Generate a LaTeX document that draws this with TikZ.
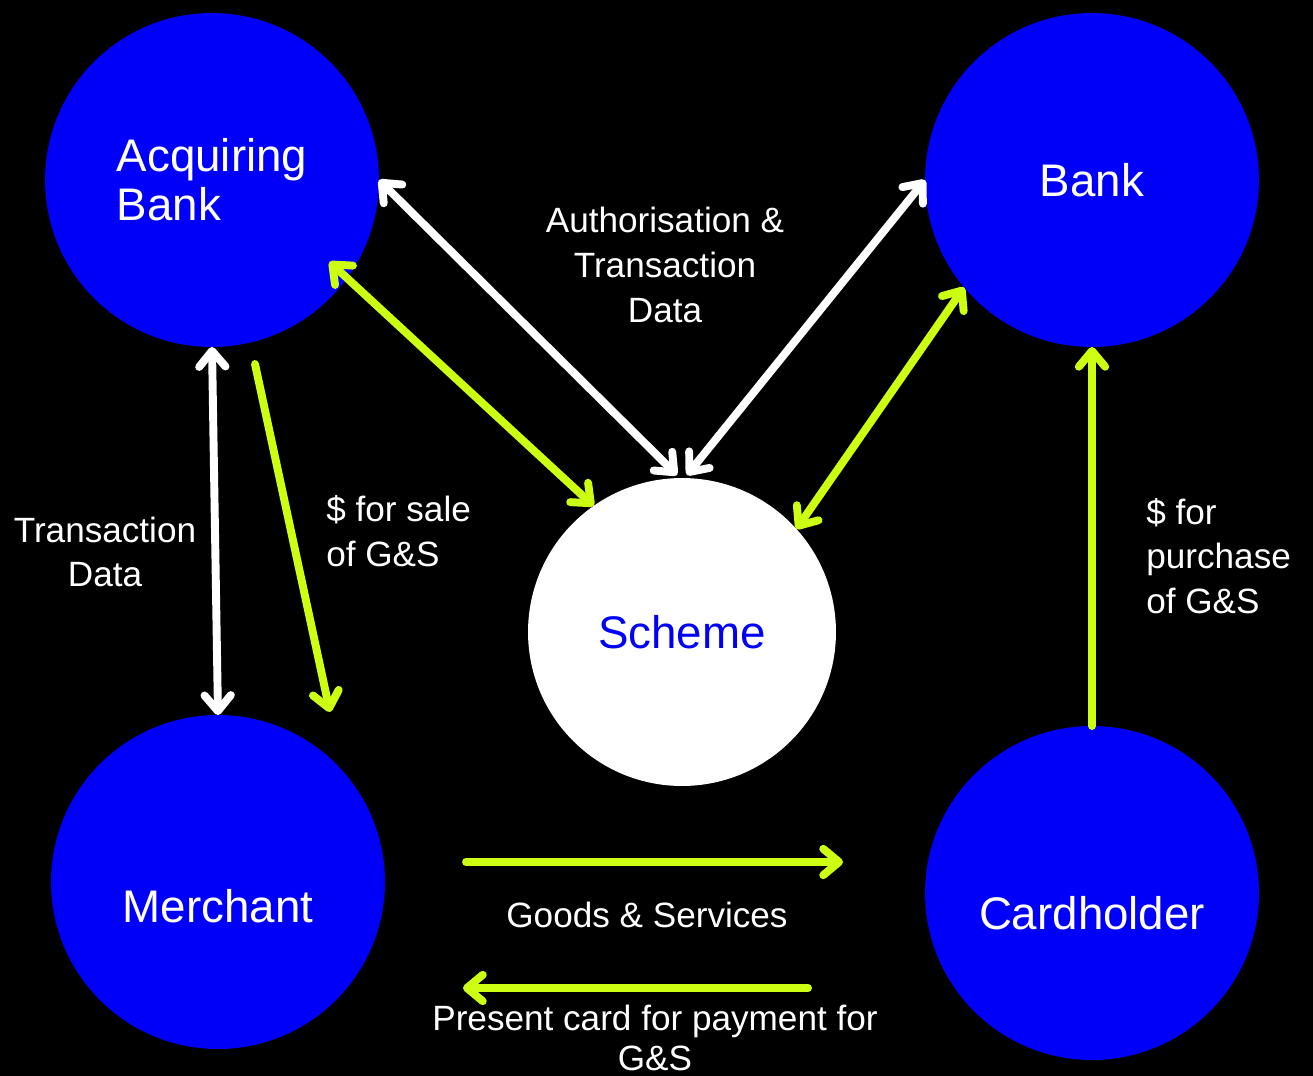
\documentclass[tikz,border=0pt]{standalone}
\usepackage{fontspec}
\setmainfont{Liberation Sans}
\usetikzlibrary{arrows.meta}
\usetikzlibrary{calc}
\usetikzlibrary{positioning}

\definecolor{cardblue}{RGB}{0,0,250}
\definecolor{lime}{RGB}{204,255,17}

\begin{document}
\begin{tikzpicture}[x=0.02cm, y=-0.02cm,
        >={Straight Barb[length=9pt,width=15pt,round]},
        party/.style={circle, fill=cardblue, text=white,
          inner sep=0pt, outer sep=0pt, minimum size=6.68cm,
          font=\fontsize{26}{28}\selectfont,
      },
        note/.style={text=white, inner sep=0pt,
          font=\fontsize{20}{25.5}\selectfont},
        wline/.style={draw=white, line width=4.5pt, line cap=round},
        gline/.style={draw=lime, line width=4.5pt, line cap=round},
      ]
      \fill[black] (0,0) rectangle (1313,1076);
      \useasboundingbox (0,0) rectangle (1313,1076);

      % the five parties
      \node[party, align=left] (acq) at (212,180) {Acquiring\\Bank};
      \node[party] (bank) at (1092,180) {Bank};
      \node[party, minimum size=6.16cm, fill=white, text=cardblue] (scheme) at (682,632) {Scheme};
      \node[party, text height=1.6cm, text depth=0pt] (merch) at (218,882) {Merchant};
      \node[party, text height=1.44cm, text depth=0pt] (card) at (1092,893) {Cardholder};

      \coordinate (sale-a) at (255,364);
      \coordinate (sale-b) at (330,712);
      \coordinate (goods-a) at (466,862);
      \coordinate (goods-b) at (843,862);
      \coordinate (pay-a) at (808,988);
      \coordinate (pay-b) at (463,988);

      % authorisation flows
      \draw[wline,<->] (acq.east) -- ($(scheme.north)+(-5,-3)$);
      \draw[wline,<->] (bank.west) -- ($(scheme.north)+(5,-3)$);
      \draw[gline,<->, shorten <=-0.48cm] (acq.-36) -- (scheme.125);
      \draw[gline,<->] (bank.220) -- (scheme.42);

      % merchant side
      \draw[wline,<->] (acq.south) -- (merch.north);
      \draw[gline,->] (sale-a) -- (sale-b);

      % cardholder side
      \draw[gline,->] (card.north) -- (bank.south);
      \draw[gline,->] (goods-a) -- (goods-b);
      \draw[gline,->] (pay-a) -- (pay-b);

      \node[note, align=center] (auth) at (665,265) {Authorisation \&\\Transaction\\Data};
      \node[note, align=center] (txdata) at (105,552) {Transaction\\Data};
      \node[note, align=left, anchor=west] (sale) at (326,531) {\$ for sale\\of G\&S};
      \node[note, align=left, anchor=west] (purchase) at (1146,556) {\$ for\\purchase\\of G\&S};
      \node[note] (goods) at (647,915) {Goods \& Services};
      \node[note, align=center, font=\fontsize{20}{22.5}\selectfont] (present) at (655,1038) {Present card for payment for\\G\&S};
    \end{tikzpicture}
\end{document}
